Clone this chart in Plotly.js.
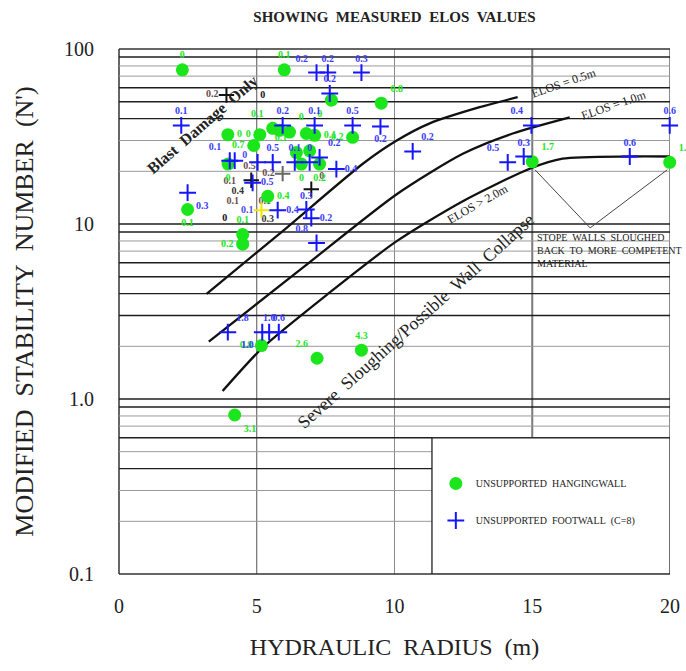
<!DOCTYPE html>
<html><head><meta charset="utf-8">
<script src="https://cdn.plot.ly/plotly-3.0.1.min.js"></script>
<style>html,body{margin:0;padding:0;background:#fff}#chart{width:686px;height:671px}</style>
</head><body><div id="chart"></div>
<script>
// ---------- data ----------
// Unsupported hangingwall (green circles)
const hangX = [2.30, 6.00, 9.52, 7.71, 3.95, 5.11, 4.89, 5.58, 5.83, 6.19, 6.80, 7.10, 8.48, 6.44, 6.92, 6.62, 7.28, 5.40, 2.49, 4.49, 4.49, 5.17, 7.19, 8.80, 4.20, 15.0, 19.99, 3.96];
const hangY = [76, 76, 49, 51, 32.4, 32.4, 28.1, 35.2, 34.3, 33.5, 32.9, 32.1, 31.3, 25.6, 26.2, 22.0, 22.0, 14.4, 12.1, 8.7, 7.67, 2.02, 1.71, 1.90, 0.81, 22.7, 22.5, 22.0];
const hangLabels = ['0', '0.1', '0.8', '0', '0', '0', '0.7', '0.1', '', '0', '', '0.1', '0.2', '0.1', '', '0', '0.2', '0.4', '0.1', '0.1', '0.2', '0.8', '2.6', '4.3', '3.1', '1.7', '1.3', '0'];
const hangPos = ['top center', 'top center', 'top right', 'bottom left', 'middle right', 'middle left', 'middle left', 'top left', 'top center', 'top right', 'top center', 'middle right', 'middle left', 'top left', 'top center', 'bottom center', 'bottom center', 'middle right', 'bottom center', 'top center', 'middle left', 'middle left', 'top left', 'top center', 'bottom right', 'top right', 'top right', 'bottom center'];

// Unsupported footwall, C=8 (blue crosses)
const footX = [7.17, 7.58, 8.80, 7.65, 2.26, 5.94, 7.10, 8.48, 9.49, 14.97, 19.99, 10.66, 14.11, 14.69, 18.54, 7.89, 7.28, 5.03, 5.58, 6.38, 6.92, 4.02, 4.20, 4.85, 2.49, 5.76, 6.80, 6.98, 7.17, 3.95, 5.20, 5.45, 5.80];
const footY = [73.3, 73.3, 73.3, 55.7, 36.6, 36.6, 36.6, 36.6, 36.1, 36.6, 36.6, 26.0, 22.5, 24.3, 24.3, 20.6, 24.0, 22.5, 22.5, 22.5, 22.5, 23.0, 23.0, 17.2, 15.1, 12.0, 12.1, 10.8, 7.8, 2.41, 2.41, 2.41, 2.41];
const footLabels = ['0.2', '0.2', '0.3', '0.2', '0.1', '0.2', '0.1', '0.5', '0.2', '0.4', '0.6', '0.2', '0.5', '0.3', '0.6', '0.4', '0.2', '', '0.5', '0.1', '0', '0.1', '', '0.5', '0.3', '0.4', '0.3', '0.2', '0.8', '1.8', '1.0', '1.0', '0.6'];
const footPos = ['top left', 'top center', 'top center', 'top center', 'top center', 'top center', 'top center', 'top center', 'bottom center', 'top left', 'top center', 'top right', 'top left', 'top center', 'top center', 'middle right', 'top right', 'top center', 'top center', 'top center', 'top center', 'top left', 'top center', 'middle right', 'bottom right', 'middle right', 'top center', 'middle right', 'top left', 'top right', 'bottom left', 'top center', 'top center'];

// other measured points (black / grey / yellow crosses)
const otherX = [3.90, 6.98, 4.80, 5.94, 5.17];
const otherY = [54.6, 15.8, 17.8, 19.4, 12.0];
const otherLabels = ['0.2', '0', '', '0.2', '0.1'];
const otherPos = ['middle left', 'top right', 'top center', 'middle left', 'middle left'];
const otherColors = ['#111111', '#111111', '#111111', '#666666', '#f2e600'];
const otherLabelColors = ['#6b4c4c', '#6b4c4c', '#6b4c4c', '#6b4c4c', '#4a4af0'];

// loose value labels
const noteX = [5.22, 3.84, 5.40, 4.13, 4.31, 4.02, 5.29, 4.74, 4.56];
const noteY = [54, 10.8, 10.6, 13.5, 15.4, 17.6, 13.5, 21.2, 24.5];
const noteText = ['0', '0', '0.3', '0.1', '0.4', '0.1', '0.1', '0.5', '0'];
const noteColors = ['#111111', '#111111', '#333333', '#6b4c4c', '#333333', '#6b4c4c', '#6b4c4c', '#6b4c4c', '#4a4af0'];

// ELOS design curves
const elos05X = [3.18, 6.02, 8.85, 10.08, 11.28, 13.09, 14.47];
const elos05Y = [3.99, 9.33, 22.1, 30.0, 37.6, 46.5, 53.1];
const elos10X = [3.26, 6.66, 10.08, 12.48, 14.29, 16.36];
const elos10Y = [2.13, 5.61, 14.8, 25.2, 32.9, 40.7];
const elos20X = [3.76, 5.22, 7.64, 10.08, 12.48, 14.91, 16.1, 18.53, 19.99];
const elos20Y = [1.11, 1.97, 4.05, 7.98, 13.5, 20.7, 23.6, 24.3, 24.3];

// stope-wall sloughing wedge
const wedgeX = [15.1, 17.1, 19.9];
const wedgeY = [20.4, 9.5, 20.4];

// grid
const darkGridY = [90, 60, 50, 40, 10, 9, 6, 5, 4, 3, 1, 0.9, 0.6, 0.4];
const greyGridY = [80, 70, 30, 20, 8, 7, 2, 0.8, 0.7, 0.5, 0.3, 0.2];
const xTicks = [0, 5, 10, 15, 20];
const yTicks = [0.1, 1, 10, 100];
const yTickText = ['0.1', '1.0', '10', '100'];

// ---------- drawing ----------
const SERIF = '"Liberation Serif", "DejaVu Serif", serif';
const GREEN = '#1be61b';
const BLUE = '#1515ff';
const NB = '\u00a0';

const shapes = [];
greyGridY.forEach(v => shapes.push({type: 'line', xref: 'x', yref: 'y', x0: 0, x1: 20, y0: v, y1: v, line: {color: '#9a9a9a', width: 1}, layer: 'below'}));
darkGridY.forEach(v => shapes.push({type: 'line', xref: 'x', yref: 'y', x0: 0, x1: 20, y0: v, y1: v, line: {color: '#1e1e1e', width: 1.4}, layer: 'below'}));
shapes.push({type: 'line', xref: 'x', yref: 'paper', x0: 5, x1: 5, y0: 0, y1: 1, line: {color: '#555555', width: 1}, layer: 'below'});
shapes.push({type: 'line', xref: 'x', yref: 'paper', x0: 10, x1: 10, y0: 0, y1: 1, line: {color: '#8a8a8a', width: 1}, layer: 'below'});
shapes.push({type: 'line', xref: 'x', yref: 'paper', x0: 15, x1: 15, y0: 0, y1: 1, line: {color: '#7a7a7a', width: 2}, layer: 'below'});
shapes.push({type: 'line', xref: 'x', yref: 'paper', x0: 20, x1: 20, y0: 0, y1: 1, line: {color: '#8a8a8a', width: 2}, layer: 'below'});
// legend box
shapes.push({type: 'rect', xref: 'x', yref: 'y', x0: 11.36, x1: 20, y0: 0.1, y1: 0.6, fillcolor: '#ffffff', line: {color: '#222222', width: 1.3}, layer: 'below'});
// frame
shapes.push({type: 'line', xref: 'paper', yref: 'paper', x0: 0, x1: 1, y0: 1, y1: 1, line: {color: '#333333', width: 1.5}, layer: 'below'});
shapes.push({type: 'line', xref: 'paper', yref: 'paper', x0: 0, x1: 1, y0: 0, y1: 0, line: {color: '#333333', width: 1.5}, layer: 'below'});
shapes.push({type: 'line', xref: 'paper', yref: 'paper', x0: 0, x1: 0, y0: 0, y1: 1, line: {color: '#333333', width: 1.5}, layer: 'below'});

const curveStyle = {color: '#111111', width: 2.3, shape: 'spline', smoothing: 0.7};
const traces = [
  {x: elos05X, y: elos05Y, mode: 'lines', line: curveStyle, showlegend: false, hoverinfo: 'skip'},
  {x: elos10X, y: elos10Y, mode: 'lines', line: curveStyle, showlegend: false, hoverinfo: 'skip'},
  {x: elos20X, y: elos20Y, mode: 'lines', line: curveStyle, showlegend: false, hoverinfo: 'skip'},
  {x: wedgeX, y: wedgeY, mode: 'lines', line: {color: '#444444', width: 1}, showlegend: false, hoverinfo: 'skip'},
  {x: noteX, y: noteY, mode: 'text', text: noteText, textfont: {family: SERIF, size: 10, color: noteColors, weight: 'bold'}, showlegend: false, cliponaxis: false},
  {x: otherX, y: otherY, mode: 'markers+text', text: otherLabels, textposition: otherPos,
   marker: {symbol: 'cross-thin', size: 11, line: {width: 2, color: otherColors}},
   textfont: {family: SERIF, size: 10, color: otherLabelColors, weight: 'bold'}, showlegend: false, cliponaxis: false},
  {name: 'UNSUPPORTED' + NB + ' HANGINGWALL', legendgroup: 'a', x: hangX, y: hangY, mode: 'markers+text', text: hangLabels, textposition: hangPos,
   marker: {symbol: 'circle', size: 13, color: GREEN}, textfont: {family: SERIF, size: 10, color: GREEN, weight: 'bold'}, cliponaxis: false},
  {name: 'UNSUPPORTED' + NB + ' FOOTWALL' + NB + ' (C=8)', legendgroup: 'b', x: footX, y: footY, mode: 'markers+text', text: footLabels, textposition: footPos,
   marker: {symbol: 'cross-thin', size: 12, line: {width: 2, color: BLUE}}, textfont: {family: SERIF, size: 10, color: '#3a3aff', weight: 'bold'}, cliponaxis: false}
];

const annotations = [
  {text: 'Blast' + NB + ' Damage' + NB + ' Only', x: 3.04, y: 1.563, xref: 'x', yref: 'y', showarrow: false, textangle: -41, font: {family: SERIF, size: 16, color: '#222', weight: 'bold'}},
  {text: 'Severe' + NB + ' Sloughing/Possible' + NB + ' Wall' + NB + ' Collapse', x: 10.77, y: 0.448, xref: 'x', yref: 'y', showarrow: false, textangle: -42, font: {family: SERIF, size: 18, color: '#222'}},
  {text: 'ELOS = 0.5m', x: 16.14, y: 1.806, xref: 'x', yref: 'y', showarrow: false, textangle: -19, font: {family: SERIF, size: 12, color: '#222'}},
  {text: 'ELOS = 1.0m', x: 17.96, y: 1.679, xref: 'x', yref: 'y', showarrow: false, textangle: -19, font: {family: SERIF, size: 12, color: '#222'}},
  {text: 'ELOS > 2.0m', x: 13.02, y: 1.114, xref: 'x', yref: 'y', showarrow: false, textangle: -29.5, font: {family: SERIF, size: 12, color: '#222'}},
  {text: 'STOPE' + NB + ' WALLS' + NB + ' SLOUGHED<br>BACK' + NB + ' TO' + NB + ' MORE' + NB + ' COMPETENT<br>MATERIAL', x: 15.09, y: 0.965, xref: 'x', yref: 'y', xanchor: 'left', yanchor: 'top', align: 'left', showarrow: false, font: {family: SERIF, size: 10, color: '#222'}}
];

const layout = {
  width: 686, height: 671,
  margin: {l: 119, r: 16, t: 49, b: 97},
  paper_bgcolor: '#ffffff', plot_bgcolor: '#ffffff',
  showlegend: true,
  legend: {x: 0.575, y: 0.2, xanchor: 'left', yanchor: 'top', bgcolor: 'rgba(0,0,0,0)', borderwidth: 0, tracegroupgap: 18,
           font: {family: SERIF, size: 10, color: '#222'}},
  title: {text: 'SHOWING' + NB + NB + 'MEASURED' + NB + NB + 'ELOS' + NB + NB + 'VALUES', x: 0.5, xref: 'paper', y: 0.975, yref: 'container', yanchor: 'middle',
          font: {family: SERIF, size: 15, color: '#222', weight: 'bold'}},
  xaxis: {range: [0, 20], tickvals: xTicks, showgrid: false, zeroline: false, showline: false, ticks: '', ticklabelstandoff: 18,
          tickfont: {family: SERIF, size: 20, color: '#222'},
          title: {text: 'HYDRAULIC' + NB + NB + 'RADIUS' + NB + NB + '(m)', standoff: 22, font: {family: SERIF, size: 24, color: '#222'}}},
  yaxis: {type: 'log', range: [-1, 2], tickvals: yTicks, ticktext: yTickText, showgrid: false, zeroline: false, showline: false, ticks: '', ticklabelstandoff: 24,
          tickfont: {family: SERIF, size: 20, color: '#222'},
          title: {text: 'MODIFIED' + NB + NB + 'STABILITY' + NB + NB + 'NUMBER' + NB + NB + "(N')", standoff: 22, font: {family: SERIF, size: 26, color: '#222'}}},
  shapes: shapes,
  annotations: annotations
};

Plotly.newPlot('chart', traces, layout, {displayModeBar: false, staticPlot: true});
</script>
</body></html>
